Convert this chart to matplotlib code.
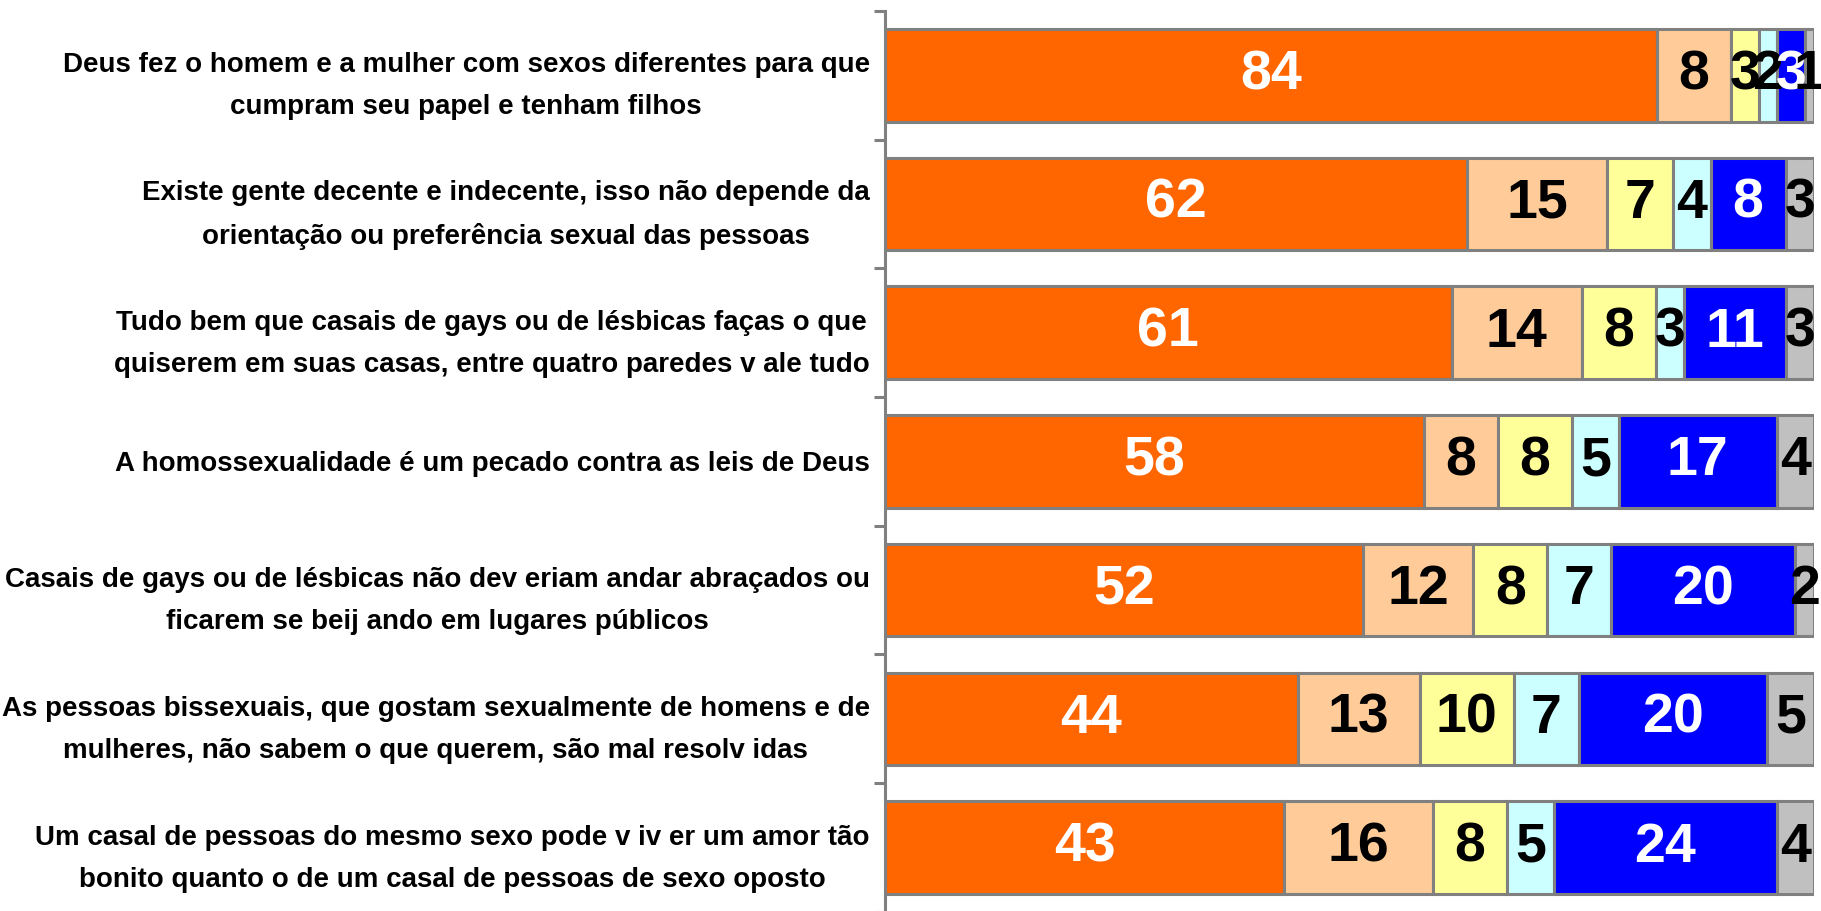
import matplotlib
matplotlib.use("Agg")
import matplotlib.pyplot as plt
import numpy as np

categories = [
    "Deus fez o homem e a mulher com sexos diferentes para que\ncumpram seu papel e tenham filhos",
    "Existe gente decente e indecente, isso não depende da\norientação ou preferência sexual das pessoas",
    "Tudo bem que casais de gays ou de lésbicas faças o que\nquiserem em suas casas, entre quatro paredes v ale tudo",
    "A homossexualidade é um pecado contra as leis de Deus",
    "Casais de gays ou de lésbicas não dev eriam andar abraçados ou\nficarem se beij ando em lugares públicos",
    "As pessoas bissexuais, que gostam sexualmente de homens e de\nmulheres, não sabem o que querem, são mal resolv idas",
    "Um casal de pessoas do mesmo sexo pode v iv er um amor tão\nbonito quanto o de um casal de pessoas de sexo oposto",
]

seg1 = [84, 62, 61, 58, 52, 44, 43]
seg2 = [8, 15, 14, 8, 12, 13, 16]
seg3 = [3, 7, 8, 8, 8, 10, 8]
seg4 = [2, 4, 3, 5, 7, 7, 5]
seg5 = [3, 8, 11, 17, 20, 20, 24]
seg6 = [1, 3, 3, 4, 2, 5, 4]

series = [seg1, seg2, seg3, seg4, seg5, seg6]
colors = ["#FF6600", "#FFCC99", "#FFFF99", "#CCFFFF", "#0000FF", "#C0C0C0"]
text_colors = ["white", "black", "black", "black", "white", "black"]

fam = ["Liberation Sans", "DejaVu Sans"]

fig = plt.figure(figsize=(18.21, 9.11), dpi=100)
ax = fig.add_axes([0.486, -0.001, 0.510, 0.989])

data = np.array(series, dtype=float)
totals = data.sum(axis=0)
pct = data / totals * 100
y = np.arange(len(categories))
left = np.zeros(len(categories))
for i in range(len(series)):
    ax.barh(y, pct[i], left=left, height=0.72, color=colors[i],
            edgecolor="#808080", linewidth=2.2, zorder=2)
    for j in range(len(categories)):
        ax.text(left[j] + pct[i][j] / 2, y[j], f"{int(data[i][j])}",
                ha="center", va="center", color=text_colors[i],
                fontsize=40, fontweight="bold", family=fam, zorder=3)
    left += pct[i]

ax.set_xlim(0, 100)
ax.set_ylim(len(categories) - 0.5, -0.5)
ax.set_yticks(y)
ax.set_yticklabels(categories, fontsize=20, fontweight="bold", family=fam,
                   ha="right", multialignment="center", linespacing=1.8)
ax.tick_params(axis="y", which="major", length=0, pad=11)
ax.set_yticks(np.arange(-0.5, len(categories) + 0.5, 1), minor=True)
ax.tick_params(axis="y", which="minor", length=8, width=2.2, color="#808080")
ax.set_xticks([])
for s in ["top", "right", "bottom"]:
    ax.spines[s].set_visible(False)
ax.spines["left"].set_color("#808080")
ax.spines["left"].set_linewidth(2.2)

fig.savefig("out.png", dpi=100)
